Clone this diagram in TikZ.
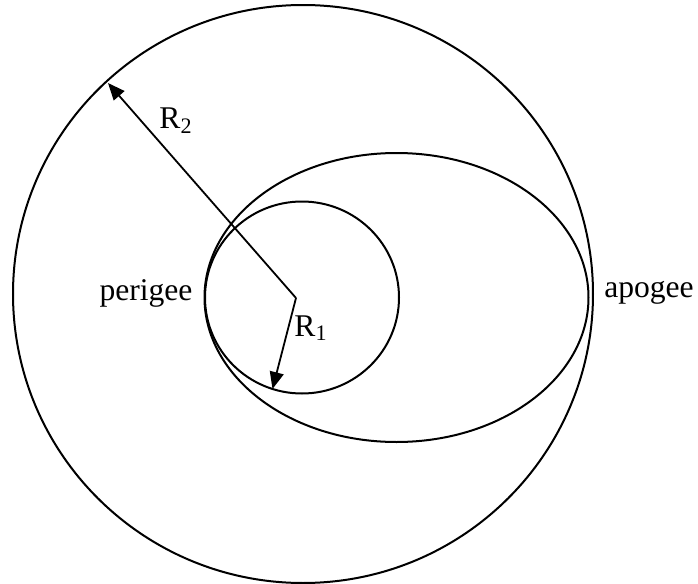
\documentclass[tikz,border=0pt]{standalone}
\usepackage{fontspec}
\setmainfont{Liberation Serif}
\usetikzlibrary{arrows.meta}

\begin{document}
\begin{tikzpicture}[
        x=0.5pt, y=-0.5pt,
        orbitLine/.style={
            draw=black,
            line width=1pt
        },
        radiusArrow/.style={
            draw=black,
            line width=0.9pt,
            -{Triangle[length=8.5pt,width=7pt]}
        },
        label/.style={
            font=\fontsize{15.8}{18}\selectfont,
            inner sep=0pt
        }
    ]

        \useasboundingbox (0,0) rectangle (698,584);

        % Orbits
        \draw[orbitLine] (303,294) ellipse [x radius=290, y radius=289];
        \draw[orbitLine] (302,297.5) ellipse [x radius=97, y radius=96];
        \draw[orbitLine] (396.5,297.5) ellipse [x radius=192, y radius=144.5];

        % Radii
        \coordinate (centre) at (296,298);
        \coordinate (outerEnd) at (108,83);
        \coordinate (innerEnd) at (272.5,389);

        \draw[radiusArrow] (centre) -- (outerEnd);
        \draw[radiusArrow] (centre) -- (innerEnd);

        % Labels
        \node[label] (outerLabel) at (176,121) {R\textsubscript{2}};
        \node[label] (innerLabel) at (311,328) {R\textsubscript{1}};
        \node[label] (perigeeLabel) at (146,293) {perigee};
        \node[label] (apogeeLabel) at (649,293) {apogee};

    \end{tikzpicture}
\end{document}
